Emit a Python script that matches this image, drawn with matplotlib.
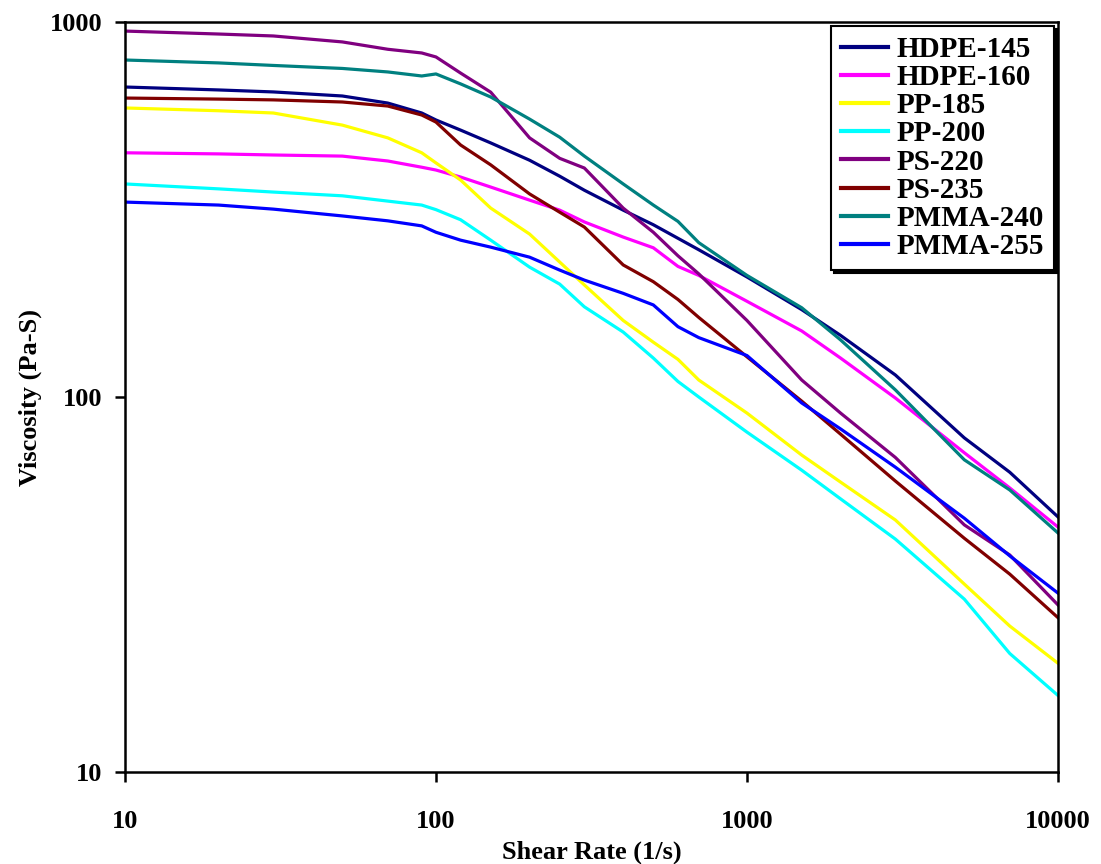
"""Viscosidad vs. velocidad de corte (log-log) para distintos polímeros."""

import matplotlib

matplotlib.use("Agg")
import matplotlib.pyplot as plt
from matplotlib.ticker import FixedLocator, NullLocator

# velocidad de corte (1/s), comun a todas las curvas
shear_rate = [10, 20, 30, 50, 70, 90, 100, 120, 150, 200, 250, 300, 400, 500,
              600, 700, 1000, 1500, 2000, 3000, 5000, 7000, 10000]

hdpe_145 = [671, 659, 651, 635, 608, 572, 548, 515, 476, 428, 388, 356, 315, 288,
            265, 247, 209, 171, 146, 114.5, 77.8, 63, 47.9]
hdpe_160 = [448, 445, 442, 439, 426, 410, 403, 386, 363, 335, 315, 293, 267, 250,
            223, 211, 180, 150, 127, 99.4, 71, 57.2, 45]
pp_185 = [590, 580, 572, 531, 491, 448, 421, 379, 319, 272, 229, 199, 160, 140,
          126, 111, 90.6, 70, 59.3, 47, 31.7, 24.5, 19.5]
pp_200 = [370, 359, 352, 344, 333, 325, 316, 297, 262, 222, 200, 174, 149, 127,
          110, 100, 80.6, 63.8, 53.5, 41.8, 28.9, 20.7, 16]
ps_220 = [946, 929, 918, 885, 846, 827, 807, 731, 650, 491, 433, 408, 319, 275,
          238, 213, 160, 111, 90.6, 69, 45.6, 37.9, 27.9]
ps_235 = [627, 623, 620, 612, 597, 565, 541, 470, 416, 348, 311, 284, 225, 203,
          182, 163, 128, 97.5, 79.6, 59.7, 42, 33.7, 25.8]
pmma_240 = [792, 778, 766, 752, 736, 718, 727, 684, 631, 551, 493, 439, 370, 325,
            294, 258, 211, 173, 142, 104.5, 68, 56.5, 43.4]
pmma_255 = [331, 325, 317, 304, 295, 286, 275, 262, 251, 236, 218, 205, 189, 176,
            154, 144, 129, 96.4, 82.2, 65, 47.5, 37.7, 30]

series = [
    ("HDPE-145", hdpe_145, "#000080"),
    ("HDPE-160", hdpe_160, "#FF00FF"),
    ("PP-185", pp_185, "#FFFF00"),
    ("PP-200", pp_200, "#00FFFF"),
    ("PS-220", ps_220, "#800080"),
    ("PS-235", ps_235, "#800000"),
    ("PMMA-240", pmma_240, "#008080"),
    ("PMMA-255", pmma_255, "#0000FF"),
]

x_ticks = [10, 100, 1000, 10000]
y_ticks = [10, 100, 1000]

plt.rcParams["font.family"] = ["Liberation Serif", "DejaVu Serif"]
plt.rcParams["font.weight"] = "bold"

fig = plt.figure(figsize=(11.01, 8.64), dpi=100)
ax = fig.add_axes([0.1135, 0.1065, 0.8474, 0.868])

for label, values, color in series:
    ax.plot(shear_rate, values, color=color, linewidth=2.3, label=label)

ax.set_xscale("log")
ax.set_yscale("log")
ax.set_xlim(10, 10000)
ax.set_ylim(10, 1000)

ax.xaxis.set_major_locator(FixedLocator(x_ticks))
ax.yaxis.set_major_locator(FixedLocator(y_ticks))
ax.xaxis.set_minor_locator(NullLocator())
ax.yaxis.set_minor_locator(NullLocator())
ax.set_xticklabels([f"{t:g}" for t in x_ticks])
ax.set_yticklabels([f"{t:g}" for t in y_ticks])

ax.tick_params(axis="both", which="major", direction="out", length=7.5,
               width=1.8, labelsize=19, colors="black")
ax.tick_params(axis="x", pad=20)
ax.tick_params(axis="y", pad=9)
for spine in ax.spines.values():
    spine.set_linewidth(1.8)
    spine.set_color("black")

ax.set_xlabel("Shear Rate (1/s)", fontsize=19, fontweight="bold", labelpad=5)
ax.set_ylabel("Viscosity (Pa-S)", fontsize=19, fontweight="bold", labelpad=5)

leg = ax.legend(
    loc="upper right",
    bbox_to_anchor=(0.996, 0.995),
    fontsize=21,
    frameon=True,
    fancybox=False,
    edgecolor="black",
    framealpha=1,
    handlelength=1.6,
    handletextpad=0.3,
    labelspacing=0.04,
    borderpad=0.35,
    borderaxespad=0.0,
    shadow={"color": "black", "alpha": 1.0},
)
leg.get_frame().set_linewidth(1.5)
for line in leg.get_lines():
    line.set_linewidth(3)

fig.savefig("out.png", dpi=100)
plt.close(fig)
